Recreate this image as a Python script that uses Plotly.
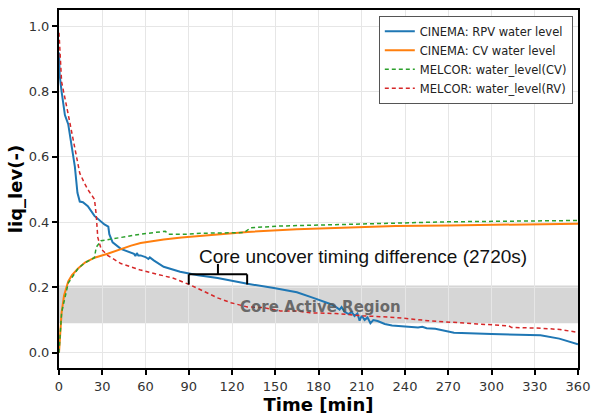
import plotly.graph_objects as go

# ---------------- data ----------------
rpv_t = [0, 0.5, 1.8, 4.1, 6.4, 8.7, 11, 12.8, 14.4, 16.6, 20, 24.6, 31.5, 34.2, 34.9, 37.2,
         42.9, 52, 53, 54, 55, 56.6, 60, 62, 63, 65.7, 72.6, 84, 90.8, 96.5, 110, 130.7, 149,
         165, 176.4, 187.7, 192, 194.6, 196, 198, 201, 203, 205, 207, 208.5, 210, 212, 214,
         216, 218, 221, 226, 231, 240, 249, 252, 255, 261, 268, 274, 300, 334, 347, 360]
rpv_y = [0.92, 0.85, 0.80, 0.728, 0.70, 0.63, 0.57, 0.49, 0.463, 0.461, 0.449, 0.419, 0.393,
         0.386, 0.363, 0.338, 0.318, 0.303, 0.296, 0.305, 0.298, 0.298, 0.293, 0.287, 0.292,
         0.283, 0.263, 0.248, 0.241, 0.237, 0.229, 0.211, 0.198, 0.185, 0.168, 0.150, 0.140,
         0.132, 0.140, 0.125, 0.118, 0.125, 0.112, 0.120, 0.098, 0.113, 0.100, 0.108, 0.090,
         0.100, 0.097, 0.088, 0.083, 0.081, 0.077, 0.079, 0.075, 0.073, 0.066, 0.061, 0.057,
         0.053, 0.043, 0.026]

cv_t = [0, 1.8, 3.5, 6.4, 9, 13.2, 18, 24.6, 33.7, 42.9, 50, 56.6, 72.6, 85, 100, 115, 130.7,
        165, 199, 233.4, 270, 300, 360]
cv_y = [0.0, 0.123, 0.175, 0.218, 0.238, 0.258, 0.276, 0.291, 0.303, 0.318, 0.328, 0.336,
        0.347, 0.353, 0.358, 0.365, 0.370, 0.378, 0.384, 0.388, 0.390, 0.392, 0.395]

mel_cv_t = [0, 1.8, 6.4, 8.7, 13.2, 17.8, 24.6, 25.8, 29.2, 42.9, 56.6, 73.7, 76, 88.5, 100,
            128.5, 133, 153.5, 210.5, 233.4, 270, 360]
mel_cv_y = [0.0, 0.123, 0.213, 0.228, 0.258, 0.275, 0.291, 0.323, 0.343, 0.353, 0.363, 0.372,
            0.363, 0.363, 0.366, 0.368, 0.383, 0.388, 0.395, 0.398, 0.401, 0.405]

mel_rv_t = [0, 1.8, 6.4, 11, 14.4, 17.8, 20, 24.6, 25.8, 26.9, 29.2, 33.7, 42.9, 56.6, 70.3,
            79.4, 90.8, 100, 110, 119.3, 130.7, 142, 153.5, 165, 174, 192, 210.5, 233, 256,
            290, 312, 314, 334, 347.5, 360]
mel_rv_y = [0.98, 0.83, 0.73, 0.63, 0.55, 0.518, 0.50, 0.47, 0.423, 0.353, 0.318, 0.298, 0.273,
            0.253, 0.238, 0.228, 0.208, 0.190, 0.168, 0.153, 0.140, 0.138, 0.128, 0.128, 0.122,
            0.120, 0.113, 0.108, 0.098, 0.088, 0.082, 0.077, 0.075, 0.071, 0.062]

series_names = ["CINEMA: RPV water level", "CINEMA: CV water level",
                "MELCOR: water_level(CV)", "MELCOR: water_level(RV)"]

core_band = [0.09, 0.206]
bracket_t = [90, 130.5]
bracket_y = [0.209, 0.240, 0.272]
x_ticks = [0, 30, 60, 90, 120, 150, 180, 210, 240, 270, 300, 330, 360]
y_ticks = [0.0, 0.2, 0.4, 0.6, 0.8, 1.0]

# ---------------- figure ----------------
fig = go.Figure()
fig.add_trace(go.Scatter(x=rpv_t, y=rpv_y, mode="lines", name=series_names[0],
                         line=dict(color="#1f77b4", width=2)))
fig.add_trace(go.Scatter(x=cv_t, y=cv_y, mode="lines", name=series_names[1],
                         line=dict(color="#ff7f0e", width=2)))
fig.add_trace(go.Scatter(x=mel_cv_t, y=mel_cv_y, mode="lines", name=series_names[2],
                         line=dict(color="#2ca02c", width=1.5, dash="4px,3px")))
fig.add_trace(go.Scatter(x=mel_rv_t, y=mel_rv_y, mode="lines", name=series_names[3],
                         line=dict(color="#d62728", width=1.5, dash="4px,3px")))

# core active region band
fig.add_shape(type="rect", xref="paper", x0=0, x1=1, yref="y", y0=core_band[0], y1=core_band[1],
              fillcolor="#d6d6d6", line=dict(width=0), layer="below")

# bracket
bl = dict(color="black", width=2)
mid = (bracket_t[0] + bracket_t[1]) / 2
fig.add_shape(type="line", x0=bracket_t[0], x1=bracket_t[1], y0=bracket_y[1], y1=bracket_y[1], line=bl)
fig.add_shape(type="line", x0=bracket_t[0], x1=bracket_t[0], y0=bracket_y[0], y1=bracket_y[1], line=bl)
fig.add_shape(type="line", x0=bracket_t[1], x1=bracket_t[1], y0=bracket_y[0], y1=bracket_y[1], line=bl)
fig.add_shape(type="line", x0=mid, x1=mid, y0=bracket_y[1], y1=bracket_y[2], line=bl)

fig.add_annotation(x=210.8, y=0.296, text="Core uncover timing difference (2720s)",
                   showarrow=False, font=dict(family="Liberation Sans, Arial", size=19, color="#111"))
fig.add_annotation(x=181.5, y=0.141, text="<b>Core Active Region</b>", showarrow=False,
                   font=dict(family="DejaVu Sans", size=15, color="rgba(85,85,85,0.85)"))

axis_common = dict(showline=True, linecolor="black", linewidth=2, mirror=True,
                   ticks="outside", ticklen=5, tickwidth=1.5, tickcolor="black",
                   showgrid=True, gridcolor="#e6e6e6", gridwidth=1, zeroline=False,
                   tickfont=dict(family="DejaVu Sans", size=13, color="#333"))

fig.update_xaxes(range=[0, 360], tickvals=x_ticks, ticktext=[str(v) for v in x_ticks],
                 title=dict(text="<b>Time [min]</b>", standoff=4,
                            font=dict(family="DejaVu Sans", size=18, color="black")),
                 **axis_common)
fig.update_yaxes(range=[-0.047, 1.05], tickvals=y_ticks, ticktext=[f"{v:.1f}" for v in y_ticks],
                 title=dict(text="<b>liq_lev(-)</b>", standoff=1,
                            font=dict(family="DejaVu Sans", size=18, color="black")),
                 **axis_common)

fig.update_layout(
    width=598, height=418,
    margin=dict(l=59, r=13, t=8, b=45),
    paper_bgcolor="white", plot_bgcolor="white",
    showlegend=True,
    legend=dict(x=0.99, y=0.984, xanchor="right", yanchor="top",
                bgcolor="white", bordercolor="#555", borderwidth=1,
                font=dict(family="DejaVu Sans", size=11.5, color="#222"),
                itemwidth=30, tracegroupgap=0),
)

fig.write_html("out.html")
